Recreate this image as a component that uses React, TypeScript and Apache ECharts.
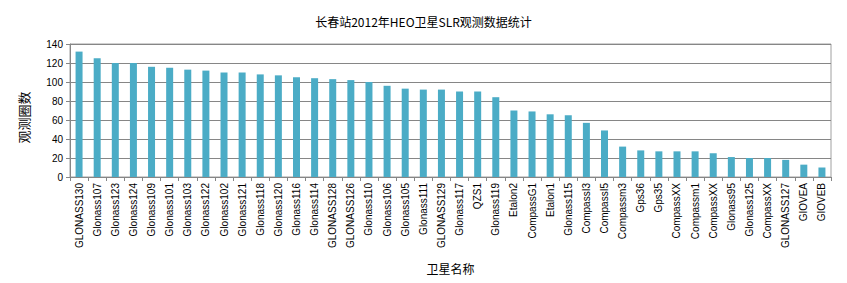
import React, { useEffect, useRef } from "react";
import * as echarts from "echarts";

const titleText = "长春站2012年HEO卫星SLR观测数据统计";
const yAxisName = "观测圈数";
const xAxisName = "卫星名称";

const categories = [
  "GLONASS130", "Glonass107", "Glonass123", "Glonass124", "Glonass109", "Glonass101",
  "Glonass103", "Glonass122", "Glonass102", "Glonass121", "Glonass118", "Glonass120",
  "Glonass116", "Glonass114", "GLONASS128", "GLONASS126", "Glonass110", "Glonass106",
  "Glonass105", "Glonass111", "GLONASS129", "Glonass117", "QZS1", "Glonass119",
  "Etalon2", "CompassG1", "Etalon1", "Glonass115", "CompassI3", "CompassI5",
  "Compassm3", "Gps36", "Gps35", "CompassXX", "Compassm1", "CompassXX",
  "Glonass95", "Glonass125", "CompassXX", "GLONASS127", "GIOVEA", "GIOVEB",
];

const values = [
  132, 125, 120, 120, 116, 115,
  113, 112, 110, 110, 108, 107,
  105, 104, 103, 102, 100, 96,
  93, 92, 92, 90, 90, 84,
  70, 69, 66, 65, 57, 49,
  32, 28, 27, 27, 27, 25,
  21, 20, 20, 18, 13, 10,
];

const yTicks = [0, 20, 40, 60, 80, 100, 120, 140];

export default function App() {
  const ref = useRef<HTMLDivElement>(null);
  useEffect(() => {
    if (!ref.current) return;
    const chart = echarts.init(ref.current, undefined, { renderer: "svg" });
    chart.setOption({
      animation: false,
      backgroundColor: "#ffffff",
      title: {
        text: titleText,
        left: "center",
        top: 10,
        textStyle: {
          fontFamily: "Noto Sans CJK SC",
          fontSize: 12,
          fontWeight: "normal",
          color: "#000000",
        },
      },
      grid: {
        left: 70,
        right: 16,
        top: 44,
        bottom: 106,
        show: true,
        borderColor: "#a0a0a0",
        borderWidth: 1,
      },
      xAxis: {
        type: "category",
        data: categories,
        name: xAxisName,
        nameLocation: "middle",
        nameGap: 85,
        nameTextStyle: {
          fontFamily: "Noto Sans CJK SC",
          fontSize: 12,
          color: "#000000",
        },
        axisLine: { show: true, lineStyle: { color: "#868686" } },
        axisTick: { show: true, alignWithLabel: false, length: 4, lineStyle: { color: "#868686" } },
        axisLabel: {
          interval: 0,
          rotate: 90,
          margin: 6,
          fontFamily: "Liberation Sans",
          fontSize: 10,
          color: "#000000",
        },
      },
      yAxis: {
        type: "value",
        min: yTicks[0],
        max: yTicks[yTicks.length - 1],
        interval: 20,
        name: yAxisName,
        nameLocation: "middle",
        nameGap: 40,
        nameRotate: 90,
        nameTextStyle: {
          fontFamily: "Noto Sans CJK SC",
          fontSize: 13,
          color: "#000000",
          padding: [0, 14, 0, 0],
        },
        axisLine: { show: true, lineStyle: { color: "#868686" } },
        axisTick: { show: true, length: 4, lineStyle: { color: "#868686" } },
        axisLabel: {
          margin: 7,
          fontFamily: "Liberation Sans",
          fontSize: 10,
          color: "#000000",
        },
        splitLine: { show: true, lineStyle: { color: "#868686", width: 1 } },
      },
      series: [
        {
          type: "bar",
          data: values,
          barWidth: 7,
          itemStyle: { color: "#4BACC6" },
        },
      ],
    });
    return () => chart.dispose();
  }, []);
  return (
    <div
      ref={ref}
      style={{ position: "fixed", left: 0, top: 0, width: 847, height: 283 }}
    />
  );
}
